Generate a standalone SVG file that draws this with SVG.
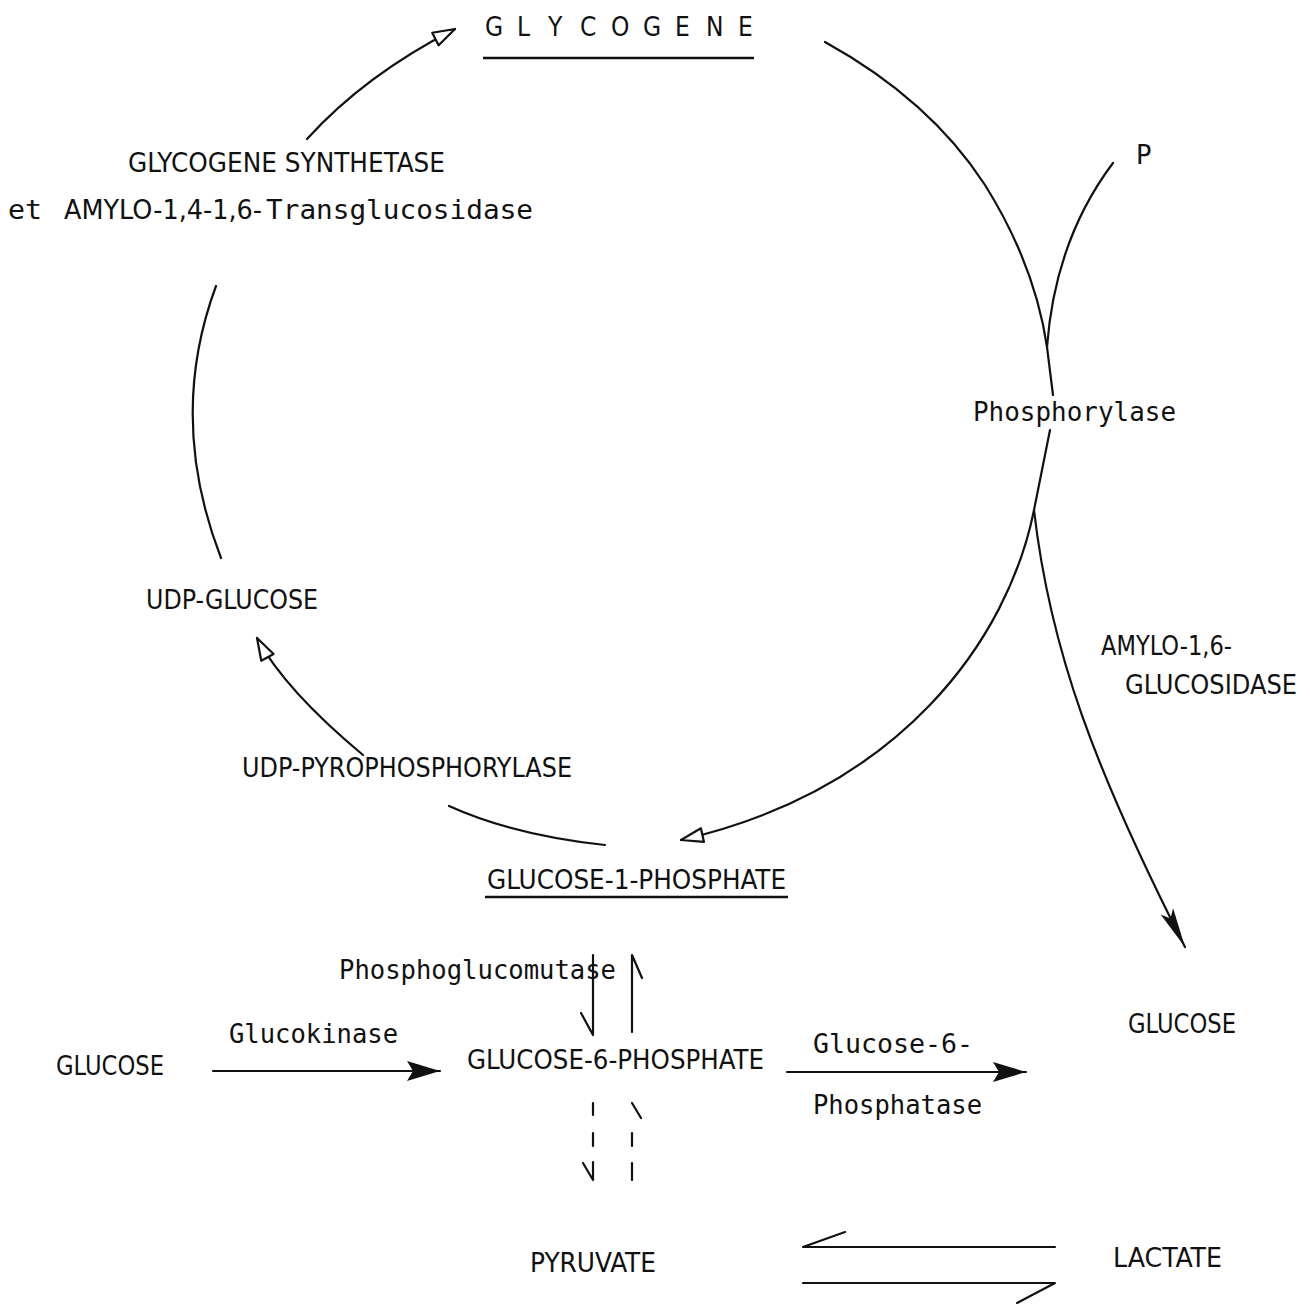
<svg xmlns="http://www.w3.org/2000/svg" width="1310" height="1304" viewBox="0 0 1310 1304">
<style>
.cap{font-family:"DejaVu Sans Condensed","DejaVu Sans","Liberation Sans",sans-serif;font-stretch:condensed;font-size:26px;fill:#111}
.mono{font-family:"DejaVu Sans Mono","Liberation Mono",monospace;font-size:26px;fill:#111}
.ln{fill:none;stroke:#111;stroke-width:2.2;stroke-linecap:round;stroke-linejoin:round}
.ul{stroke:#111;stroke-width:2.4}
</style>
<defs>
<marker id="hollow" markerUnits="userSpaceOnUse" markerWidth="30" markerHeight="20" viewBox="-26 -10 30 20" refX="0" refY="0" orient="auto" overflow="visible">
<path d="M0,0 L-22,-7 L-22,7 Z" fill="#fff" stroke="#111" stroke-width="2.2" stroke-linejoin="round"/>
</marker>
<marker id="filled" markerUnits="userSpaceOnUse" markerWidth="40" markerHeight="24" viewBox="-36 -12 40 24" refX="0" refY="0" orient="auto" overflow="visible">
<path d="M0,0 L-33,-10 L-27,0 L-33,10 Z" fill="#111"/>
</marker>
<marker id="narrow" markerUnits="userSpaceOnUse" markerWidth="44" markerHeight="20" viewBox="-42 -10 44 20" refX="0" refY="0" orient="auto" overflow="visible">
<path d="M0,0 L-40,-7 L-32,0 L-40,7 Z" fill="#111"/>
</marker>
</defs>
<rect width="1310" height="1304" fill="#fff"/>

<g id="connectors">
<path class="ln" d="M307,139 Q365,75 455,29" marker-end="url(#hollow)"/>
<path class="ln" d="M825,42 Q930,100 985,185 Q1035,265 1047,347 L1053,395"/>
<path class="ln" d="M1113,163 Q1055,240 1047,347"/>
<path class="ln" d="M1050,430 L1034,510"/>
<path class="ln" d="M1034,510 C1008,640 900,790 681,840" marker-end="url(#hollow)"/>
<path class="ln" d="M1034,510 C1050,650 1095,770 1185,947" marker-end="url(#narrow)"/>
<path class="ln" d="M216,286 Q167,418 221,558"/>
<path class="ln" d="M363,755 Q285,690 257,638" marker-end="url(#hollow)"/>
<path class="ln" d="M605,845 Q513,835 449,806"/>
<path class="ln" d="M593,955 L593,1035 M581,1013 L593,1035"/>
<path class="ln" d="M632,1032 L632,955 L642,978"/>
<path class="ln" d="M593,1103 L593,1115 M593,1133 L593,1146 M593,1162 L593,1180 M583,1163 L593,1180"/>
<path class="ln" d="M632,1103 L641,1118 M632,1133 L632,1146 M632,1163 L632,1180"/>
<path class="ln" d="M213,1071 L440,1071" marker-end="url(#filled)"/>
<path class="ln" d="M787,1072 L1026,1072" marker-end="url(#filled)"/>
<path class="ln" d="M1055,1247 L803,1247 L845,1232"/>
<path class="ln" d="M803,1283 L1055,1283 L1017,1303"/>
</g>

<g id="glycogene">
<text class="cap" font-size="29" x="485 517 548 580 611 643 675 706 738" y="36">GLYCOGENE</text>
<line class="ul" x1="483" y1="58" x2="754" y2="58"/>
</g>
<g id="synthetase">
<text class="cap" x="128" y="172" textLength="317" lengthAdjust="spacingAndGlyphs">GLYCOGENE SYNTHETASE</text>
<text y="219"><tspan class="mono" x="8" textLength="34" lengthAdjust="spacingAndGlyphs">et</tspan><tspan class="cap" x="64" textLength="198" lengthAdjust="spacingAndGlyphs">AMYLO-1,4-1,6-</tspan><tspan class="mono" x="266" textLength="267" lengthAdjust="spacingAndGlyphs">Transglucosidase</tspan></text>
</g>
<g id="p"><text class="mono" x="1136" y="164">P</text></g>
<g id="phosphorylase"><text class="mono" x="973" y="421" textLength="203" lengthAdjust="spacingAndGlyphs">Phosphorylase</text></g>
<g id="udp-glucose"><text class="cap" x="146" y="609" textLength="172" lengthAdjust="spacingAndGlyphs">UDP-GLUCOSE</text></g>
<g id="udp-pyrophosphorylase"><text class="cap" x="242" y="777" textLength="330" lengthAdjust="spacingAndGlyphs">UDP-PYROPHOSPHORYLASE</text></g>
<g id="amylo-glucosidase">
<text class="cap" x="1101" y="655" textLength="131" lengthAdjust="spacingAndGlyphs">AMYLO-1,6-</text>
<text class="cap" x="1125" y="694" textLength="172" lengthAdjust="spacingAndGlyphs">GLUCOSIDASE</text>
</g>
<g id="glucose-1-phosphate">
<text class="cap" x="487" y="889" textLength="299" lengthAdjust="spacingAndGlyphs">GLUCOSE-1-PHOSPHATE</text>
<line class="ul" x1="485" y1="897" x2="788" y2="897"/>
</g>
<g id="phosphoglucomutase"><text class="mono" x="339" y="979" textLength="277" lengthAdjust="spacingAndGlyphs">Phosphoglucomutase</text></g>
<g id="glucose-right"><text class="cap" x="1128" y="1033" textLength="108" lengthAdjust="spacingAndGlyphs">GLUCOSE</text></g>
<g id="glucokinase"><text class="mono" x="229" y="1043" textLength="169" lengthAdjust="spacingAndGlyphs">Glucokinase</text></g>
<g id="glucose-left"><text class="cap" x="56" y="1075" textLength="108" lengthAdjust="spacingAndGlyphs">GLUCOSE</text></g>
<g id="glucose-6-phosphate"><text class="cap" x="467" y="1069" textLength="297" lengthAdjust="spacingAndGlyphs">GLUCOSE-6-PHOSPHATE</text></g>
<g id="glucose-6-phosphatase">
<text class="mono" x="813" y="1053" textLength="160" lengthAdjust="spacingAndGlyphs">Glucose-6-</text>
<text class="mono" x="813" y="1114" textLength="169" lengthAdjust="spacingAndGlyphs">Phosphatase</text>
</g>
<g id="pyruvate"><text class="cap" x="530" y="1272" textLength="126" lengthAdjust="spacingAndGlyphs">PYRUVATE</text></g>
<g id="lactate"><text class="cap" x="1113" y="1267" textLength="109" lengthAdjust="spacingAndGlyphs">LACTATE</text></g>
</svg>
